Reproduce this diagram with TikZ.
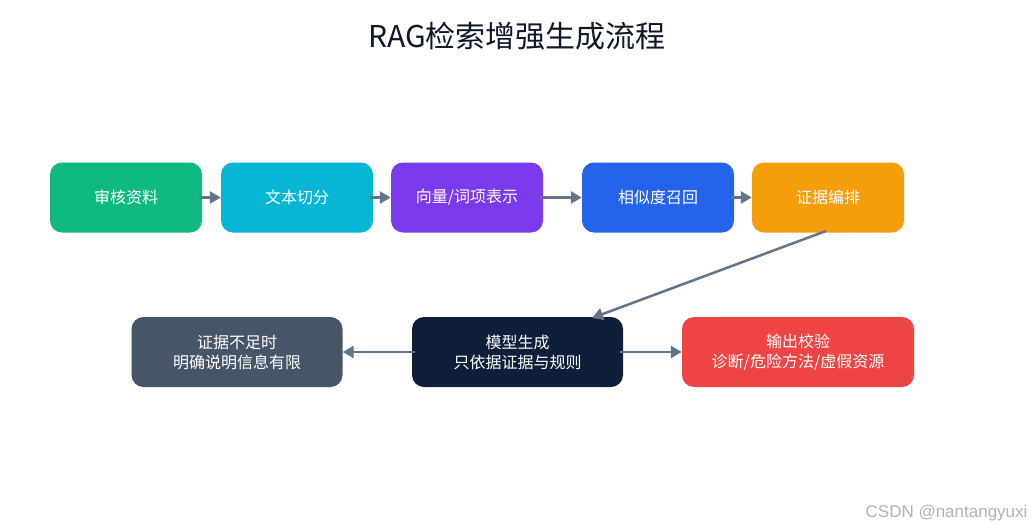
\documentclass[tikz,border=0pt]{standalone}
\usepackage{fontspec}
\setmainfont{Noto Sans CJK SC}
\newfontfamily\wmfont{Liberation Sans}
\usetikzlibrary{arrows.meta}
\definecolor{cgreen}{HTML}{10B981}
\definecolor{ccyan}{HTML}{06B6D4}
\definecolor{cpurple}{HTML}{7C3AED}
\definecolor{cblue}{HTML}{2563EB}
\definecolor{camber}{HTML}{F59E0B}
\definecolor{cslate}{HTML}{475569}
\definecolor{cnavy}{HTML}{0F1F3A}
\definecolor{cred}{HTML}{EF4444}
\definecolor{carrow}{HTML}{64748B}
\definecolor{ctitle}{HTML}{0F172A}
\begin{document}
\begin{tikzpicture}[x=1pt,y=-1pt,
  box/.style={rounded corners=12pt, minimum height=70pt, inner sep=0pt,
    text=white, font=\fontsize{16}{20}\selectfont, align=center},
  topbox/.style={box, minimum width=152pt},
  conn/.style={draw=carrow, line width=2.5pt, shorten <=-3pt, -{Triangle[length=11pt,width=12pt]}}
]
\useasboundingbox (0,0) rectangle (1035,530);
\fill[white] (0,0) rectangle (1035,530);
\node[text=ctitle, font=\fontsize{30}{34}\selectfont] (title) at (517,36) {RAG检索增强生成流程};
\node[topbox, fill=cgreen] (b1) at (126,197.5) {审核资料};
\node[topbox, fill=ccyan] (b2) at (297,197.5) {文本切分};
\node[topbox, fill=cpurple] (b3) at (467,197.5) {向量/词项表示};
\node[topbox, fill=cblue] (b4) at (658,197.5) {相似度召回};
\node[topbox, fill=camber] (b5) at (828,197.5) {证据编排};
\node[box, fill=cslate, minimum width=211pt] (c1) at (237,352) {证据不足时\\明确说明信息有限};
\node[box, fill=cnavy, minimum width=211pt] (c2) at (517.5,352) {模型生成\\只依据证据与规则};
\node[box, fill=cred, minimum width=232pt] (c3) at (798,352) {输出校验\\诊断/危险方法/虚假资源};
\coordinate (d1) at (826,231);
\coordinate (d2) at (592,318);
\draw[conn] (b1.east) -- (b2.west);
\draw[conn] (b2.east) -- (b3.west);
\draw[conn] (b3.east) -- (b4.west);
\draw[conn] (b4.east) -- (b5.west);
\draw[conn, shorten <=0pt] (d1) -- (d2);
\draw[conn] (c2.west) -- (c1.east);
\draw[conn] (c2.east) -- (c3.west);
\node[text=black!30, font=\wmfont\fontsize{17}{20}\selectfont, anchor=east] (wm) at (1031,513) {CSDN @nantangyuxi};
\end{tikzpicture}
\end{document}
